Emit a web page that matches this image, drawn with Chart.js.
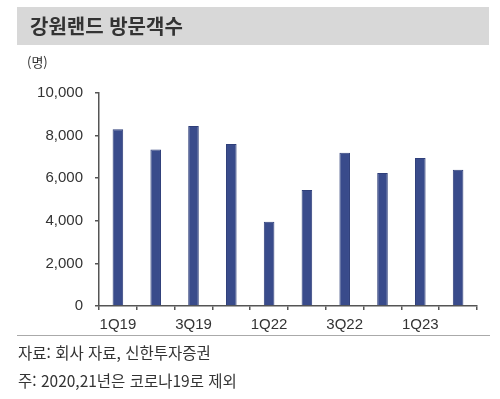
<!DOCTYPE html>
<html lang="ko">
<head>
<meta charset="utf-8">
<script src="https://cdn.jsdelivr.net/npm/chart.js@4"></script>
<style>
  html, body { margin: 0; padding: 0; background: #fff; }
  body { width: 500px; height: 399px; position: relative; overflow: hidden;
         font-family: "Noto Sans CJK KR", "Liberation Sans", sans-serif; color: #333; }
  #wrap { position: absolute; left: 0; top: 0; width: 500px; height: 399px; }
  .title-band { position: absolute; left: 17px; top: 7px; width: 472px; height: 38px; background: #d8d8d8; }
  .title { position: absolute; left: 30px; top: 12px; font-size: 20px; font-weight: bold; line-height: 28px; color: #333; }
  .unit { position: absolute; left: 27px; top: 53px; font-size: 13px; line-height: 18px; }
  .sep { position: absolute; left: 17px; top: 335px; width: 473px; height: 1px; background: #aaa; }
  .note { position: absolute; left: 18px; font-size: 15.5px; line-height: 22px; color: #333; }
</style>
</head>
<body>
<div id="wrap"><canvas id="visitChart"></canvas></div>
<div class="title-band"></div>
<div class="title">강원랜드 방문객수</div>
<div class="unit">(명)</div>
<div class="sep"></div>
<div class="note" style="top:341px">자료: 회사 자료, 신한투자증권</div>
<div class="note" style="top:369px">주: 2020,21년은 코로나19로 제외</div>
<script>
// 분기별 방문객수 (명)
const quarters = ["1Q19", "2Q19", "3Q19", "4Q19", "1Q22", "2Q22", "3Q22", "4Q22", "1Q23", "2Q23"];
const visitors = [8300, 7350, 8450, 7600, 3950, 5450, 7200, 6250, 6950, 6400];
const yTicks = [0, 2000, 4000, 6000, 8000, 10000];

document.addEventListener('DOMContentLoaded', function () {
  const ctx = document.getElementById("visitChart");
  if (!ctx) return;
  const axisColor = "#555";
  new Chart(ctx, {
    type: "bar",
    data: {
      labels: quarters,
      datasets: [
        {
          label: "방문객수",
          data: visitors,
          backgroundColor: "#394b8b",
          borderColor: "#2f3f7a",
          borderWidth: 1,
          categoryPercentage: 1,
          barPercentage: 0.28,
        },
      ],
    },
    options: {
      responsive: true,
      maintainAspectRatio: false,
      animation: false,
      layout: { padding: { top: 93, right: 23, left: 0, bottom: 0 } },
      plugins: {
        legend: { display: false },
        tooltip: { enabled: false },
      },
      scales: {
        x: {
          afterFit: (s) => { s.height = 93; },
          border: { color: axisColor, width: 1.5 },
          grid: { display: true, drawOnChartArea: false, offset: true, tickLength: 4, color: axisColor, lineWidth: 1.5 },
          ticks: {
            autoSkip: false,
            maxRotation: 0,
            padding: 6,
            color: "#333",
            font: { family: "Liberation Sans", size: 15 },
            callback: (v, i) => (i % 2 === 0 ? quarters[i] : ""),
          },
        },
        y: {
          min: yTicks[0],
          max: yTicks[yTicks.length - 1],
          afterFit: (s) => { s.width = 99; },
          afterBuildTicks: (s) => { s.ticks = yTicks.map((v) => ({ value: v })); },
          border: { color: axisColor, width: 1.5 },
          grid: { display: true, drawOnChartArea: false, tickLength: 4, color: axisColor, lineWidth: 1.5 },
          ticks: {
            padding: 12,
            color: "#333",
            font: { family: "Liberation Sans", size: 15 },
            callback: (v) => v.toLocaleString("en-US"),
          },
        },
      },
    },
  });
});
</script>
</body>
</html>
